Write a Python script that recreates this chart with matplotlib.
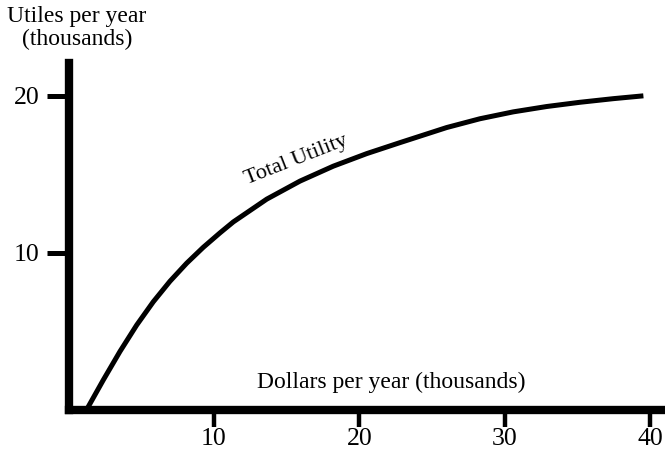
import matplotlib.pyplot as plt

# total utility curve (dollars, utiles; thousands)
dollars = [1.24, 2.38, 3.53, 4.68, 5.82, 6.97, 8.12, 9.26, 10.41, 11.33, 13.63,
           15.92, 18.21, 20.51, 22.8, 26.01, 28.3, 30.6, 32.9, 35.19,
           37.48, 39.55]
utiles = [0.0, 1.88, 3.7, 5.38, 6.86, 8.17, 9.32, 10.33, 11.25, 11.95, 13.4,
          14.55, 15.5, 16.3, 17.0, 17.96, 18.52, 18.96, 19.3, 19.57,
          19.8, 19.98]
x_ticks = [10, 20, 30, 40]
y_ticks = [10, 20]

plt.rcParams['font.family'] = ['Liberation Serif', 'DejaVu Serif']

fig = plt.figure(figsize=(6.65, 4.59), dpi=100)
ax = fig.add_axes([0.1033, 0.1078, 0.8937, 0.7549])

ax.plot(dollars, utiles, color='black', lw=3.6, solid_capstyle='butt',
        solid_joinstyle='round')

ax.set_xlim(0, 40.9)
ax.set_ylim(0, 22.07)

for side in ['top', 'right']:
    ax.spines[side].set_visible(False)
for side in ['left', 'bottom']:
    ax.spines[side].set_linewidth(6)
    ax.spines[side].set_capstyle('projecting')

ax.set_xticks(x_ticks)
ax.set_yticks(y_ticks)
ax.tick_params(axis='x', direction='out', length=12, width=3.2, pad=1.5, labelsize=18.5)
ax.tick_params(axis='y', direction='out', length=16, width=3.6, pad=5, labelsize=18.5)

ax.text(22.2, 1.7, 'Dollars per year (thousands)', fontsize=17, ha='center', va='center')
ax.text(15.64, 15.9, 'Total Utility', fontsize=16, rotation=21.5,
        ha='center', va='center', rotation_mode='anchor')

fig.text(77 / 665, 1 - 6 / 459, 'Utiles per year\n(thousands)', fontsize=17,
         ha='center', va='top', linespacing=1.1)

plt.savefig('out.png', dpi=100)
